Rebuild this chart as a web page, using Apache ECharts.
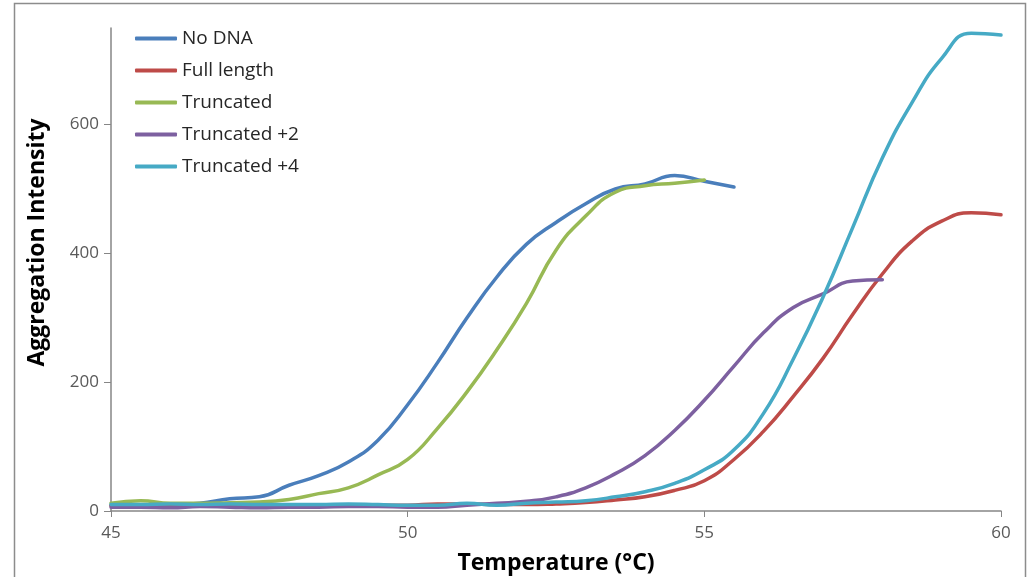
<!DOCTYPE html>
<html>
<head>
<meta charset="utf-8">
<script src="https://cdn.jsdelivr.net/npm/echarts@6/dist/echarts.min.js"></script>
<style>
  html, body { margin: 0; padding: 0; background: #fff; }
  #main { width: 1030px; height: 577px; }
</style>
</head>
<body>
<div id="main"></div>
<script>
// temperature steps (°C), shared by every curve; shorter curves stop early
var temps = [45, 45.5, 46, 46.5, 47, 47.5, 48, 48.5, 49, 49.5,
             50, 50.5, 51, 51.5, 52, 52.5, 53, 53.5, 54, 54.5,
             55, 55.5, 56, 56.5, 57, 57.5, 58, 58.5, 59, 59.5, 60];

var noDna = [9, 9, 10, 12, 19, 22, 40, 55, 76, 110,
             165, 230, 300, 363, 414, 448, 477, 500, 508, 521,
             512, 503];
var fullLength = [8, 8, 8, 8, 9, 9, 9, 9, 9, 9,
                  9, 11, 11, 10, 10, 11, 13, 17, 22, 32,
                  47, 80, 124, 178, 237, 305, 368, 419, 450, 463, 460];
var truncated = [12, 16, 12, 12, 13, 14, 18, 27, 36, 56,
                 80, 128, 185, 250, 322, 405, 458, 495, 505, 509,
                 514];
var truncated2 = [6, 6, 5, 7, 6, 5, 6, 6, 7, 7,
                  6, 6, 9, 12, 15, 22, 36, 58, 86, 125,
                  172, 225, 277, 316, 337, 357, 359];
var truncated4 = [10, 10, 11, 10, 11, 10, 10, 10, 11, 10,
                  9, 9, 12, 9, 12, 14, 16, 22, 30, 43,
                  64, 95, 152, 236, 332, 440, 548, 634, 703, 742, 739];

var xTicks = [45, 50, 55, 60];
var yTicks = [0, 200, 400, 600];

function pairs(vals) {
    return vals.map(function (v, i) { return [temps[i], v]; });
}

var myChart = echarts.init(document.getElementById('main'));

function line(name, vals, color) {
    return {
        name: name,
        type: 'line',
        data: pairs(vals),
        smooth: 0.5,
        symbol: 'none',
        lineStyle: { color: color, width: 3.5, cap: 'round' },
        itemStyle: { color: color }
    };
}

myChart.setOption({
    animation: false,
    textStyle: { fontFamily: 'Open Sans' },
    grid: { left: 111, right: 29, top: 28, bottom: 66, outerBoundsMode: 'none' },
    graphic: [{
        type: 'rect',
        shape: { x: 14.5, y: 3.5, width: 1011, height: 600 },
        style: { fill: 'none', stroke: '#8c8c8c', lineWidth: 1.5 },
        silent: true
    }],
    legend: {
        orient: 'vertical',
        left: 130,
        top: 24,
        itemWidth: 42,
        itemHeight: 4,
        itemGap: 13,
        icon: 'roundRect',
        textStyle: { fontSize: 19, color: '#262626', fontFamily: 'Open Sans' },
        data: ['No DNA', 'Full length', 'Truncated', 'Truncated +2', 'Truncated +4']
    },
    xAxis: {
        type: 'value',
        min: 45,
        max: 60,
        interval: 5,
        name: 'Temperature (°C)',
        nameLocation: 'middle',
        nameGap: 41,
        nameTextStyle: { fontSize: 23, fontWeight: 'bold', color: '#000', fontFamily: 'Open Sans' },
        axisLine: { lineStyle: { color: '#868686', width: 1.5 } },
        axisTick: { show: true, length: 6, lineStyle: { color: '#868686' }, customValues: xTicks },
        axisLabel: { fontSize: 17, color: '#595959', margin: 14, customValues: xTicks },
        splitLine: { show: false }
    },
    yAxis: {
        type: 'value',
        min: 0,
        max: 750,
        interval: 200,
        name: 'Aggregation Intensity',
        nameLocation: 'middle',
        nameGap: 62,
        nameTextStyle: { fontSize: 23, fontWeight: 'bold', color: '#000', fontFamily: 'Open Sans', padding: [0, 0, 0, 54] },
        axisLine: { show: true, lineStyle: { color: '#868686', width: 1.5 } },
        axisTick: { show: true, length: 7, lineStyle: { color: '#868686' }, customValues: yTicks },
        axisLabel: { fontSize: 17, color: '#595959', margin: 12, customValues: yTicks },
        splitLine: { show: false }
    },
    series: [
        line('No DNA', noDna, '#4A7EBB'),
        line('Full length', fullLength, '#BE4B48'),
        line('Truncated', truncated, '#98B954'),
        line('Truncated +2', truncated2, '#7D60A0'),
        line('Truncated +4', truncated4, '#46AAC5')
    ]
});
</script>
</body>
</html>
